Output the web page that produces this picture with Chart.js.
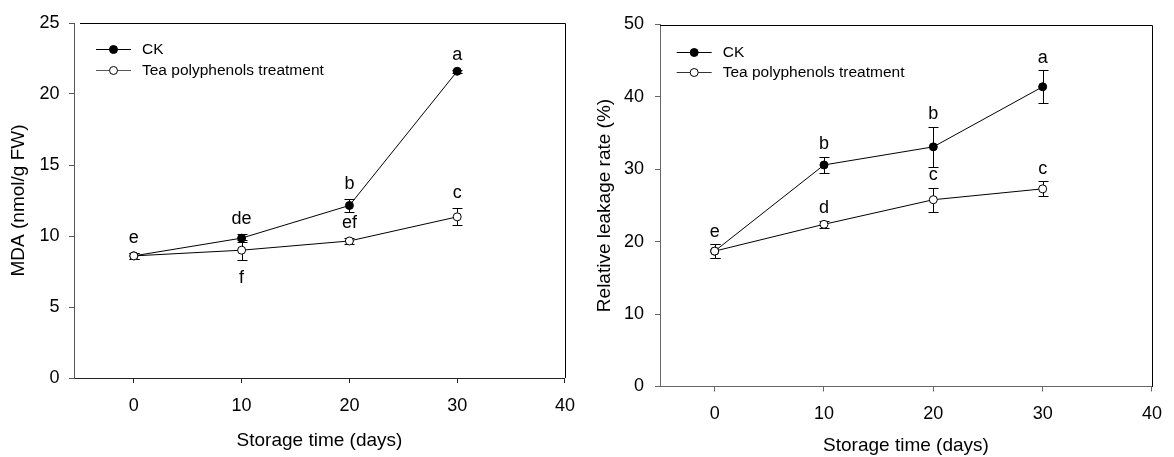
<!DOCTYPE html>
<html>
<head>
<meta charset="utf-8">
<script src="https://cdn.jsdelivr.net/npm/chart.js@4.4.1/dist/chart.umd.min.js"></script>
<style>
  html, body { margin: 0; padding: 0; background: #fff; }
  .wrap { display: flex; width: 1174px; height: 457px; }
  .panel { position: relative; width: 587px; height: 457px; }
</style>
</head>
<body>
<div class="wrap">
  <div class="panel"><canvas id="mdaChart"></canvas></div>
  <div class="panel"><canvas id="leakChart"></canvas></div>
</div>
<script>
const days = [0, 10, 20, 30];
const xTicks = [0, 10, 20, 30, 40];
const seriesNames = ['CK', 'Tea polyphenols treatment'];

// MDA (left panel)
const mdaCK = [8.6, 9.85, 12.15, 21.6];
const mdaCKErr = [0.2, 0.3, 0.45, 0.12];
const mdaTea = [8.6, 9.0, 9.65, 11.35];
const mdaTeaErr = [0.2, 0.7, 0.2, 0.6];
const mdaCKLetters = ['', 'de', 'b', 'a'];
const mdaTeaLetters = ['e', 'f', 'ef', 'c'];
const mdaTeaBelow = [false, true, false, false];

// relative leakage (right panel)
const leakCK = [18.7, 30.6, 33.1, 41.4];
const leakCKErr = [0.95, 1.1, 2.8, 2.3];
const leakTea = [18.7, 22.4, 25.8, 27.3];
const leakTeaErr = [0.95, 0.5, 1.65, 1.05];
const leakCKLetters = ['', 'b', 'b', 'a'];
const leakTeaLetters = ['e', 'd', 'c', 'c'];
const leakTeaBelow = [false, false, false, false];

const FONT = "'Liberation Sans', Arial, sans-serif";

const toPoints = vals => days.map((d, i) => ({ x: d, y: vals[i] }));

// error bars under the points, letters on top
const errorBars = {
    id: 'errorBars',
    beforeDatasetsDraw(chart, args, opts) {
        const { ctx, scales: { x, y } } = chart;
        ctx.save();
        ctx.strokeStyle = '#000';
        ctx.lineWidth = 1;
        chart.data.datasets.forEach(ds => {
            ds.data.forEach((p, i) => {
                const px = Math.round(x.getPixelForValue(p.x)) + 0.5;
                const t = Math.round(y.getPixelForValue(p.y + ds.errors[i])) + 0.5;
                const b = Math.round(y.getPixelForValue(p.y - ds.errors[i])) + 0.5;
                ctx.beginPath();
                ctx.moveTo(px, t); ctx.lineTo(px, b);
                ctx.moveTo(px - opts.cap, t); ctx.lineTo(px + opts.cap, t);
                ctx.moveTo(px - opts.cap, b); ctx.lineTo(px + opts.cap, b);
                ctx.stroke();
            });
        });
        ctx.restore();
    },
    afterDatasetsDraw(chart, args, opts) {
        const { ctx, scales: { x, y } } = chart;
        ctx.save();
        ctx.fillStyle = '#000';
        ctx.font = '18px ' + FONT;
        ctx.textAlign = 'center';
        ctx.textBaseline = 'alphabetic';
        chart.data.datasets.forEach(ds => {
            ds.data.forEach((p, i) => {
                const txt = ds.letters[i];
                if (!txt) return;
                const px = x.getPixelForValue(p.x);
                if (ds.below[i]) {
                    ctx.fillText(txt, px, y.getPixelForValue(p.y - ds.errors[i]) + 23);
                } else {
                    ctx.fillText(txt, px, y.getPixelForValue(p.y + ds.errors[i]) - opts.gap);
                }
            });
        });
        ctx.restore();
    }
};

const frameLines = {
    id: 'frameLines',
    afterDraw(chart) {
        const { ctx, chartArea: a, scales: { x } } = chart;
        const l = Math.round(x.getPixelForValue(-5));
        ctx.save();
        ctx.strokeStyle = '#000';
        ctx.lineWidth = 1;
        ctx.beginPath();
        ctx.moveTo(l, Math.round(a.top) + 0.5);
        ctx.lineTo(Math.round(a.right) + 0.5, Math.round(a.top) + 0.5);
        ctx.lineTo(Math.round(a.right) + 0.5, Math.round(a.bottom));
        ctx.stroke();
        ctx.restore();
    }
};

const lineLegend = {
    id: 'lineLegend',
    afterDraw(chart, args, opts) {
        const { ctx, chartArea } = chart;
        const x0 = chartArea.left + opts.dx;
        ctx.save();
        ctx.font = '15.5px ' + FONT;
        ctx.textBaseline = 'middle';
        chart.data.datasets.forEach((ds, i) => {
            const yy = Math.round(chartArea.top + opts.dy + i * opts.rowGap) + 0.5;
            ctx.strokeStyle = ds.legendLine;
            ctx.lineWidth = 1;
            ctx.beginPath();
            ctx.moveTo(x0, yy); ctx.lineTo(x0 + 35, yy);
            ctx.stroke();
            ctx.beginPath();
            ctx.arc(x0 + 17.5, yy, 4, 0, Math.PI * 2);
            ctx.fillStyle = ds.pointBackgroundColor;
            ctx.fill();
            ctx.strokeStyle = '#000';
            ctx.stroke();
            ctx.fillStyle = '#000';
            ctx.fillText(ds.label, x0 + 46, yy);
        });
        ctx.restore();
    }
};

function makeDatasets(ck, ckErr, ckLet, tea, teaErr, teaLet, teaBelow, teaLegendLine) {
    return [{
        label: seriesNames[0],
        data: toPoints(ck),
        errors: ckErr, letters: ckLet, below: ck.map(() => false),
        borderColor: '#000', borderWidth: 1,
        pointBackgroundColor: '#000', pointBorderColor: '#000',
        pointRadius: 4, pointBorderWidth: 1,
        legendLine: '#000',
        order: 1
    }, {
        label: seriesNames[1],
        data: toPoints(tea),
        errors: teaErr, letters: teaLet, below: teaBelow,
        borderColor: '#000', borderWidth: 1,
        pointBackgroundColor: '#fff', pointBorderColor: '#000',
        pointRadius: 4, pointBorderWidth: 1,
        legendLine: teaLegendLine,
        order: 0
    }];
}

function makeChart(id, o) {
    return new Chart(document.getElementById(id), {
        type: 'line',
        data: { datasets: o.datasets },
        options: {
            responsive: true,
            maintainAspectRatio: false,
            animation: false,
            events: [],
            layout: { padding: { left: 0, top: o.top, right: o.right, bottom: 0 } },
            plugins: {
                legend: { display: false },
                tooltip: { enabled: false },
                errorBars: { cap: 5, gap: o.gap },
                lineLegend: { dx: o.legDx, dy: o.legDy, rowGap: 20.7 }
            },
            scales: {
                x: {
                    type: 'linear', min: o.xMin, max: 40,
                    afterBuildTicks: s => { s.ticks = xTicks.map(v => ({ value: v })); },
                    afterFit: s => { s.height = o.xHeight; },
                    grid: { drawOnChartArea: false, tickLength: 5, color: o.xAxisColor },
                    border: { color: o.xAxisColor },
                    ticks: { color: '#000', padding: 12, font: { family: FONT, size: 18 } },
                    title: { display: true, text: 'Storage time (days)', color: '#000',
                        padding: { top: 0, bottom: o.xTitlePad }, font: { family: FONT, size: 19 } }
                },
                y: {
                    min: 0, max: o.yMax,
                    afterBuildTicks: s => { s.ticks = o.yTicks.map(v => ({ value: v })); },
                    afterFit: s => { s.width = o.yWidth; },
                    grid: { drawOnChartArea: false, tickLength: 5, color: o.yAxisColor },
                    border: { color: o.yAxisColor },
                    ticks: { color: '#000', padding: o.yTickPad, font: { family: FONT, size: 18 } },
                    title: { display: true, text: o.yTitle, color: '#000',
                        padding: { top: o.yTitlePad, bottom: 0 }, font: { family: FONT, size: 19 } }
                }
            }
        },
        plugins: [errorBars, frameLines, lineLegend]
    });
}

makeChart('mdaChart', {
    datasets: makeDatasets(mdaCK, mdaCKErr, mdaCKLetters, mdaTea, mdaTeaErr, mdaTeaLetters, mdaTeaBelow, '#555'),
    yTicks: [0, 5, 10, 15, 20, 25], yMax: 25, xMin: -5.55,
    yTitle: 'MDA (nmol/g FW)',
    top: 23, right: 15, yWidth: 74, xHeight: 79,
    xTitlePad: 5, yTitlePad: 7, yTickPad: 9.5, gap: 10,
    legDx: 22, legDy: 26.3,
    xAxisColor: '#222', yAxisColor: '#555'
});

makeChart('leakChart', {
    datasets: makeDatasets(leakCK, leakCKErr, leakCKLetters, leakTea, leakTeaErr, leakTeaLetters, leakTeaBelow, '#333'),
    yTicks: [0, 10, 20, 30, 40, 50], yMax: 50, xMin: -5,
    yTitle: 'Relative leakage rate (%)',
    top: 24.5, right: 13, yWidth: 73, xHeight: 70.5,
    xTitlePad: 0, yTitlePad: 6, yTickPad: 11, gap: 7.5,
    legDx: 16.7, legDy: 27.2,
    xAxisColor: '#666', yAxisColor: '#666'
});
</script>
</body>
</html>
